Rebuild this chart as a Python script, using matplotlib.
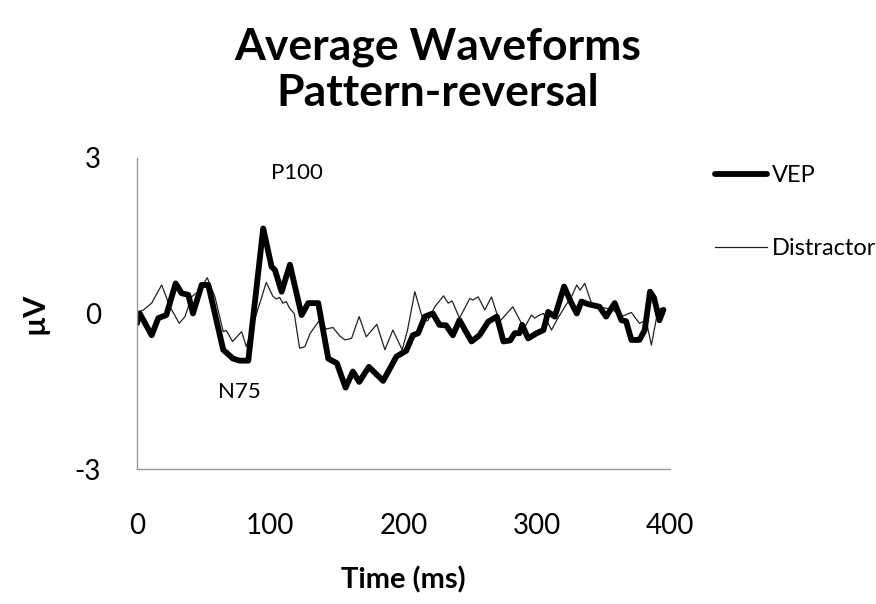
import matplotlib
matplotlib.use('Agg')
import matplotlib.pyplot as plt

plt.rcParams['font.family'] = ['Lato', 'DejaVu Sans']
plt.rcParams['axes.unicode_minus'] = False

# VEP waveform (ms, uV)
vep_t = [0, 2, 11, 16, 22, 29, 33.5, 38.5, 42, 48.5, 53.5, 64.7, 72, 77, 83.5,
         94.7, 101, 103.5, 108.5, 114.75, 123.5, 128.5, 136, 143.5, 150, 156.5,
         162, 166.7, 174, 184.7, 194.7, 202, 207, 211, 216, 222, 227, 232, 237,
         242, 251, 257, 263.5, 270, 275, 280, 283.5, 287, 289, 293.5, 300, 305,
         308.5, 313.5, 320.5, 326, 330, 333.5, 338.5, 347, 352, 358.5, 363.5,
         367, 371, 377, 381, 385, 388, 392, 395]
vep_v = [-0.19, 0.0, -0.42, -0.09, -0.03, 0.58, 0.39, 0.36, 0.0, 0.55, 0.55,
         -0.70, -0.87, -0.91, -0.91, 1.64, 0.90, 0.84, 0.42, 0.94, -0.03, 0.2,
         0.2, -0.87, -0.96, -1.43, -1.12, -1.32, -1.03, -1.30, -0.83, -0.72,
         -0.42, -0.38, -0.06, 0.0, -0.22, -0.23, -0.42, -0.13, -0.54, -0.42,
         -0.16, -0.06, -0.54, -0.52, -0.38, -0.38, -0.22, -0.48, -0.38, -0.32,
         0.03, -0.06, 0.52, 0.2, 0.0, 0.23, 0.18, 0.13, -0.06, 0.2, -0.13,
         -0.15, -0.51, -0.51, -0.32, 0.42, 0.3, -0.13, 0.07]

# Distractor waveform (ms, uV)
dis_t = [0, 4.5, 11, 18.5, 24.75, 31.7, 36, 41, 47, 52.75, 58.5, 64.7, 67,
         71.7, 78.5, 82, 89.75, 97, 102, 104.5, 107, 109.5, 112, 114.5, 118,
         122, 126, 130, 137, 142, 147, 152, 156, 161, 166.7, 172, 180, 186, 192,
         199, 203, 208.5, 215, 218.5, 223.5, 230, 233.5, 236.5, 242, 249.75,
         252, 256, 261, 266, 272, 282, 288.5, 291, 296, 298.5, 302, 305, 311,
         315, 321, 326, 330, 332.5, 336, 341, 347, 357, 363.5, 371, 377, 382,
         386, 390, 393]
dis_v = [0.03, 0.06, 0.2, 0.55, 0.13, -0.19, -0.06, 0.32, 0.45, 0.69, 0.32,
         -0.35, -0.33, -0.54, -0.35, -0.64, 0.0, 0.6, 0.33, 0.28, 0.31, 0.2,
         0.23, 0.1, 0.0, -0.67, -0.64, -0.38, -0.13, -0.3, -0.27, -0.43, -0.51,
         -0.48, -0.06, -0.45, -0.21, -0.70, -0.32, -0.70, -0.32, 0.42, -0.16,
         -0.13, 0.13, 0.34, 0.2, 0.24, -0.09, 0.29, 0.26, 0.32, 0.07, 0.32,
         -0.16, 0.13, -0.19, -0.26, -0.03, -0.09, -0.03, 0.0, -0.32, -0.13,
         0.13, 0.32, 0.55, 0.45, 0.58, 0.2, 0.13, 0.07, -0.06, 0.02, -0.19,
         -0.13, -0.61, -0.06, 0.1]

x_ticks = [0, 100, 200, 300, 400]
y_ticks = [-3, 0, 3]

fig = plt.figure(figsize=(8.76, 6.04), dpi=100)
ax = fig.add_axes([0.1564, 0.2235, 0.6085, 0.515])

ax.plot(dis_t, dis_v, color='#222222', lw=0.9, label='Distractor',
        solid_joinstyle='round')
ax.plot(vep_t, vep_v, color='black', lw=4.2, label='VEP',
        solid_joinstyle='round', solid_capstyle='round')

ax.set_xlim(0, 400)
ax.set_ylim(-3, 3)
ax.set_xticks(x_ticks)
ax.set_yticks(y_ticks)
ax.tick_params(axis='x', length=0, pad=32, labelsize=20)
ax.tick_params(axis='y', length=0, pad=26, labelsize=20)
for s in ['top', 'right']:
    ax.spines[s].set_visible(False)
for s in ['left', 'bottom']:
    ax.spines[s].set_color('#999999')
    ax.spines[s].set_linewidth(1.0)

ax.set_xlabel('Time (ms)', fontsize=21, fontweight='bold', labelpad=19)
ax.set_ylabel('µV', fontsize=22, fontweight='bold', labelpad=19)

ax.text(120, 2.7, 'P100', fontsize=16, ha='center', va='center')
ax.text(77, -1.52, 'N75', fontsize=16, ha='center', va='center')

fig.suptitle('Average Waveforms\nPattern-reversal', fontsize=32,
             fontweight='bold', y=0.956, linespacing=1.2)

handles, labels = ax.get_legend_handles_labels()
ax.legend(handles[::-1], labels[::-1], loc='upper left',
          bbox_to_anchor=(1.045, 1.045), frameon=False, fontsize=17,
          handlelength=2.2, handletextpad=0.2, labelspacing=2.2)

fig.savefig('out.png', dpi=100)
